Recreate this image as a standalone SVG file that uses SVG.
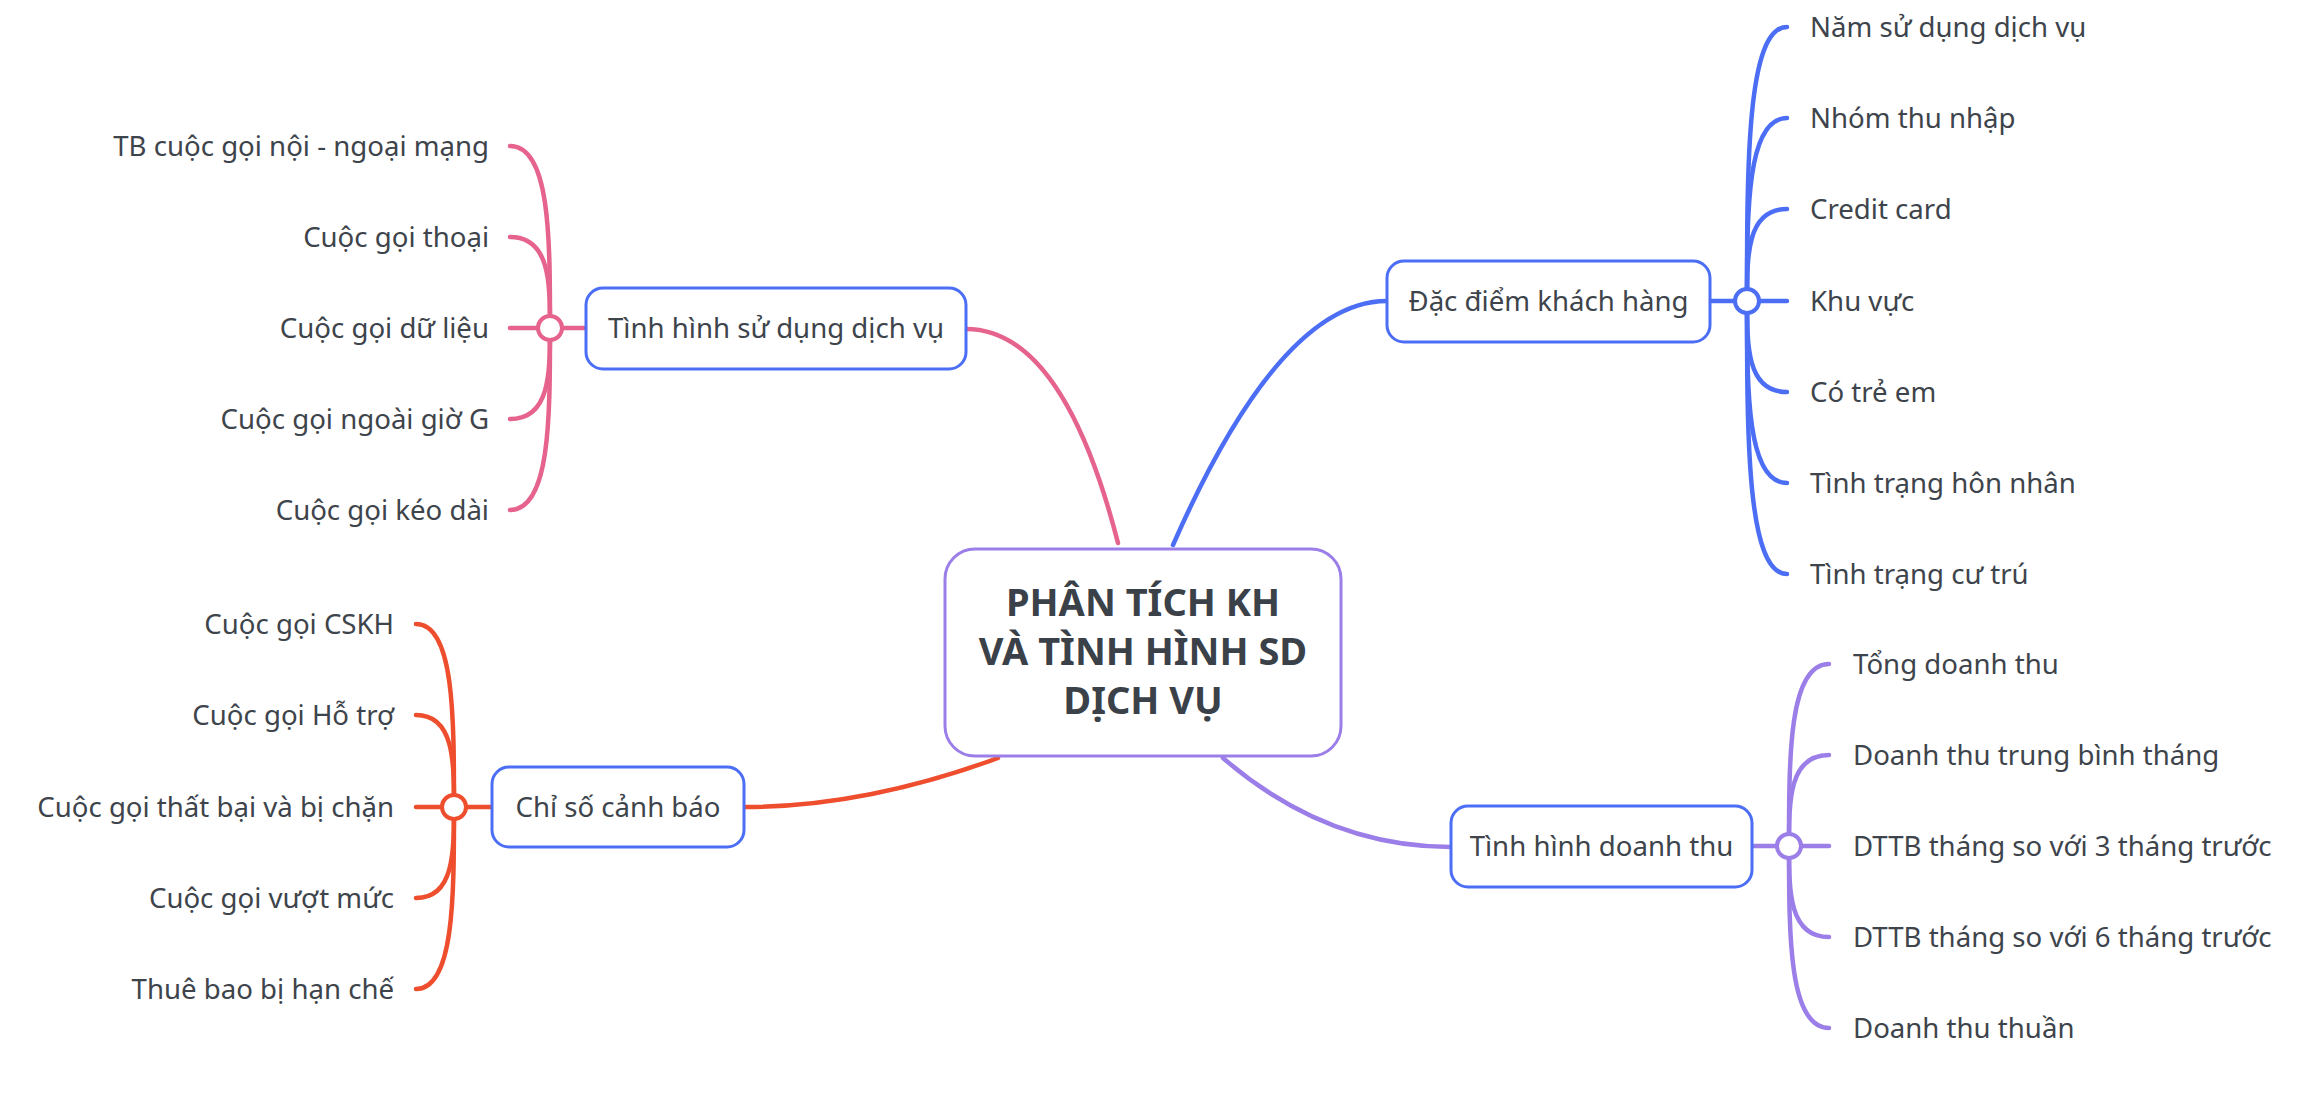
<svg xmlns="http://www.w3.org/2000/svg" width="2316" height="1098" viewBox="0 0 2316 1098">
<style>
.t{font-family:"Noto Sans","DejaVu Sans",sans-serif;font-size:27.6px;fill:#3e444b}
.c{font-family:"Noto Sans","DejaVu Sans",sans-serif;font-size:38px;font-weight:700;fill:#3b4148;text-anchor:middle}
.m{text-anchor:middle}
.e{text-anchor:end}
.box{fill:#fff;stroke:#4c6ef5;stroke-width:3}
.ln{fill:none;stroke-width:4.5;stroke-linecap:round}
.pk{stroke:#e5638d}.bl{stroke:#4c6ef5}.rd{stroke:#ee4e2e}.pu{stroke:#9b7ee8}
.j{fill:#fff;stroke-width:4}
</style>
<rect width="2316" height="1098" fill="#fff"/>
<g id="connectors">
<path class="ln pk" stroke-width="5.5" d="M966 329 Q1063 329 1118 543"/>
<path class="ln bl" stroke-width="5.5" d="M1173 545 Q1280 301 1387 301"/>
<path class="ln rd" stroke-width="5.5" d="M744 807 Q865 807 998 758"/>
<path class="ln pu" stroke-width="5.5" d="M1223 758 Q1326 847 1451 847"/>
<g class="ln pk">
<path d="M550 328 L586 328"/>
<path d="M550 328 C550 237 550 146 510 146"/>
<path d="M550 328 C550 282.5 550 237 510 237"/>
<path d="M550 328 L510 328"/>
<path d="M550 328 C550 373.5 550 419 510 419"/>
<path d="M550 328 C550 419 550 510 510 510"/>
</g>
<g class="ln bl">
<path d="M1710 301 L1747 301"/>
<path d="M1747 301 C1747 164 1747 27 1787 27"/>
<path d="M1747 301 C1747 209.5 1747 118 1787 118"/>
<path d="M1747 301 C1747 255 1747 209 1787 209"/>
<path d="M1747 301 L1787 301"/>
<path d="M1747 301 C1747 346.5 1747 392 1787 392"/>
<path d="M1747 301 C1747 392 1747 483 1787 483"/>
<path d="M1747 301 C1747 437.5 1747 574 1787 574"/>
</g>
<g class="ln rd">
<path d="M454 807 L492 807"/>
<path d="M454 807 C454 715.5 454 624 416 624"/>
<path d="M454 807 C454 761 454 715 416 715"/>
<path d="M454 807 L416 807"/>
<path d="M454 807 C454 852.5 454 898 416 898"/>
<path d="M454 807 C454 898 454 989 416 989"/>
</g>
<g class="ln pu">
<path d="M1752 846 L1789 846"/>
<path d="M1789 846 C1789 755 1789 664 1829 664"/>
<path d="M1789 846 C1789 800.5 1789 755 1829 755"/>
<path d="M1789 846 L1829 846"/>
<path d="M1789 846 C1789 891.5 1789 937 1829 937"/>
<path d="M1789 846 C1789 937 1789 1028 1829 1028"/>
</g>
<circle class="j pk" cx="550" cy="328" r="12"/>
<circle class="j bl" cx="1747" cy="301" r="12"/>
<circle class="j rd" cx="454" cy="807" r="12"/>
<circle class="j pu" cx="1789" cy="846" r="12"/>
</g>
<g id="central">
<rect x="945" y="549" width="396" height="207" rx="30" fill="#fff" stroke="#9b7ee8" stroke-width="3"/>
<text class="c" x="1143" y="616">PHÂN TÍCH KH</text>
<text class="c" x="1143" y="665">VÀ TÌNH HÌNH SD</text>
<text class="c" x="1143" y="714">DỊCH VỤ</text>
</g>
<g id="usage">
<rect class="box" x="586" y="288" width="380" height="81" rx="17"/>
<text class="t m" x="776" y="338">Tình hình sử dụng dịch vụ</text>
</g>
<g id="customer">
<rect class="box" x="1387" y="261" width="323" height="81" rx="17"/>
<text class="t m" x="1548.5" y="311">Đặc điểm khách hàng</text>
</g>
<g id="warning">
<rect class="box" x="492" y="767" width="252" height="80" rx="17"/>
<text class="t m" x="618" y="817">Chỉ số cảnh báo</text>
</g>
<g id="revenue">
<rect class="box" x="1451" y="806" width="301" height="81" rx="17"/>
<text class="t m" x="1601.5" y="856">Tình hình doanh thu</text>
</g>
<g id="usage-leaves">
<g id="u1"><text class="t e" x="489" y="156">TB cuộc gọi nội - ngoại mạng</text></g>
<g id="u2"><text class="t e" x="489" y="247">Cuộc gọi thoại</text></g>
<g id="u3"><text class="t e" x="489" y="338">Cuộc gọi dữ liệu</text></g>
<g id="u4"><text class="t e" x="489" y="429">Cuộc gọi ngoài giờ G</text></g>
<g id="u5"><text class="t e" x="489" y="520">Cuộc gọi kéo dài</text></g>
</g>
<g id="customer-leaves">
<g id="c1"><text class="t" x="1810" y="37">Năm sử dụng dịch vụ</text></g>
<g id="c2"><text class="t" x="1810" y="128">Nhóm thu nhập</text></g>
<g id="c3"><text class="t" x="1810" y="219">Credit card</text></g>
<g id="c4"><text class="t" x="1810" y="311">Khu vực</text></g>
<g id="c5"><text class="t" x="1810" y="402">Có trẻ em</text></g>
<g id="c6"><text class="t" x="1810" y="493">Tình trạng hôn nhân</text></g>
<g id="c7"><text class="t" x="1810" y="584">Tình trạng cư trú</text></g>
</g>
<g id="warning-leaves">
<g id="w1"><text class="t e" x="394" y="634">Cuộc gọi CSKH</text></g>
<g id="w2"><text class="t e" x="394" y="725">Cuộc gọi Hỗ trợ</text></g>
<g id="w3"><text class="t e" x="394" y="817">Cuộc gọi thất bại và bị chặn</text></g>
<g id="w4"><text class="t e" x="394" y="908">Cuộc gọi vượt mức</text></g>
<g id="w5"><text class="t e" x="394" y="999">Thuê bao bị hạn chế</text></g>
</g>
<g id="revenue-leaves">
<g id="r1"><text class="t" x="1853" y="674">Tổng doanh thu</text></g>
<g id="r2"><text class="t" x="1853" y="765">Doanh thu trung bình tháng</text></g>
<g id="r3"><text class="t" x="1853" y="856">DTTB tháng so với 3 tháng trước</text></g>
<g id="r4"><text class="t" x="1853" y="947">DTTB tháng so với 6 tháng trước</text></g>
<g id="r5"><text class="t" x="1853" y="1038">Doanh thu thuần</text></g>
</g>
</svg>
